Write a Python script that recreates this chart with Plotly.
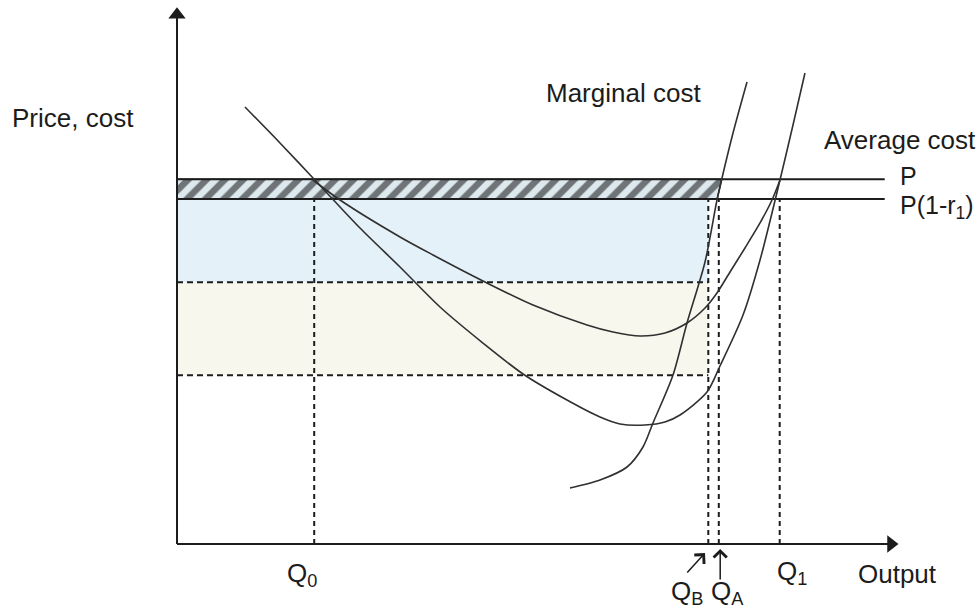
import numpy as np
import plotly.graph_objects as go

# ---------------- data (economic units) ----------------
P = 52.1                 # price
r1 = 0.054               # rate
P_net = P * (1 - r1)     # P(1-r1)

Q0 = 19.6
QB = 75.9
QA = 77.4
Q1 = 86.1

cost_levels = [37.4, 24.1]   # dashed horizontal levels

price_line_end = 101.1
x_axis_end = 103.0
y_axis_end = 76.6

# average cost curve (deep U, labelled "Average cost")
ac_x = [9.71, 14.71, 19.43, 26.14, 31.86, 37.57, 43.71, 49.43, 55.71, 60.43,
        63.29, 66.86, 69.71, 71.86, 75.71, 77.57, 80.86, 83.29, 86.14, 88.0, 89.71]
ac_y = [62.43, 57.29, 52.29, 45.14, 39.57, 33.86, 28.71, 24.29, 20.57, 18.14,
        17.14, 17.0, 17.43, 18.43, 21.71, 25.43, 32.71, 40.57, 52.0, 59.86, 67.29]

# second average cost curve (shallow U)
ac2_x = [19.43, 23.29, 31.86, 36.57, 44.0, 50.86, 58.57, 62.29, 66.14, 69.71,
         72.86, 75.43, 77.14, 79.0, 81.14, 83.29, 85.0, 86.14]
ac2_y = [52.0, 49.14, 43.86, 41.29, 37.43, 34.14, 31.29, 30.29, 29.71, 30.14,
         31.57, 33.71, 35.86, 38.86, 42.29, 45.86, 49.14, 52.0]

# marginal cost curve
mc_x = [56.14, 60.43, 64.29, 66.57, 68.0, 70.86, 72.86, 75.43, 77.14, 77.86, 79.43, 81.43]
mc_y = [8.0, 9.14, 11.0, 13.86, 17.29, 24.14, 31.57, 40.29, 49.14, 52.29, 58.71, 66.0]

# ---------------- figure ----------------
FONT = "Liberation Sans, Arial, sans-serif"
INK = "#1c1c1c"
CURVE = "#303030"

fig = go.Figure()

# shaded rectangles
fig.add_shape(type="rect", x0=0, x1=QB, y0=cost_levels[0], y1=P_net,
              fillcolor="#e4f1f8", line_width=0, layer="below")
fig.add_shape(type="rect", x0=0, x1=QB, y0=cost_levels[1], y1=cost_levels[0],
              fillcolor="#f8f7ee", line_width=0, layer="below")

# hatched band between P and P(1-r1), bounded by MC
x_mc_P = float(np.interp(P, mc_y, mc_x))
x_mc_Pn = float(np.interp(P_net, mc_y, mc_x))
fig.add_trace(go.Scatter(
    x=[0, x_mc_P, x_mc_Pn, 0, 0], y=[P, P, P_net, P_net, P],
    mode="lines", fill="toself", line=dict(color=INK, width=1.5),
    fillcolor="#dbe9ef",
    fillpattern=dict(shape="/", fgcolor="#000000", bgcolor="#dde9ee",
                     size=13, solidity=0.5),
    hoverinfo="skip", showlegend=False))

# dashed horizontal levels
for lvl in cost_levels:
    fig.add_trace(go.Scatter(x=[0, QB], y=[lvl, lvl], mode="lines",
                             line=dict(color=INK, width=2, dash="6px,4px"),
                             hoverinfo="skip", showlegend=False))

# dashed vertical drop lines
for q in [Q0, QB, QA, Q1]:
    fig.add_trace(go.Scatter(x=[q, q], y=[0, P_net], mode="lines",
                             line=dict(color=INK, width=2, dash="5px,4px"),
                             hoverinfo="skip", showlegend=False))

# price lines
for lvl in [P, P_net]:
    fig.add_trace(go.Scatter(x=[0, price_line_end], y=[lvl, lvl], mode="lines",
                             line=dict(color=INK, width=2),
                             hoverinfo="skip", showlegend=False))

# curves
for cx, cy in [(ac_x, ac_y), (ac2_x, ac2_y), (mc_x, mc_y)]:
    fig.add_trace(go.Scatter(x=cx, y=cy, mode="lines",
                             line=dict(color=CURVE, width=1.6, shape="spline", smoothing=0.8),
                             hoverinfo="skip", showlegend=False))

# axes lines with triangle arrowheads
fig.add_trace(go.Scatter(x=[0, x_axis_end - 1.0], y=[0, 0], mode="lines",
                         line=dict(color=INK, width=2), hoverinfo="skip", showlegend=False))
fig.add_trace(go.Scatter(x=[0, 0], y=[0, y_axis_end - 1.0], mode="lines",
                         line=dict(color=INK, width=2), hoverinfo="skip", showlegend=False))
fig.add_trace(go.Scatter(x=[x_axis_end - 1.0], y=[0], mode="markers",
                         marker=dict(symbol="triangle-right", size=15, color=INK),
                         hoverinfo="skip", showlegend=False))
fig.add_trace(go.Scatter(x=[0], y=[y_axis_end - 1.0], mode="markers",
                         marker=dict(symbol="triangle-up", size=15, color=INK),
                         hoverinfo="skip", showlegend=False))

# QB / QA pointer arrows
annotations = [
    dict(x=75.43, y=-1.3, ax=72.7, ay=-4.3, xref="x", yref="y", axref="x", ayref="y",
         showarrow=True, arrowhead=4, arrowsize=1.7, arrowwidth=1.5, arrowcolor=INK, text=""),
    dict(x=77.6, y=-0.7, ax=77.6, ay=-5.3, xref="x", yref="y", axref="x", ayref="y",
         showarrow=True, arrowhead=4, arrowsize=1.7, arrowwidth=1.5, arrowcolor=INK, text=""),
]

def label(text, x, y, xanchor="center", yanchor="middle", size=26):
    return dict(x=x, y=y, xref="x", yref="y", text=text, showarrow=False,
                xanchor=xanchor, yanchor=yanchor,
                font=dict(family=FONT, size=size, color=INK))

annotations += [
    label("Price, cost", -23.9, 60.9, xanchor="left"),
    label("Marginal cost", 75.2, 64.4, xanchor="right"),
    label("Average cost", 92.2, 57.7, xanchor="left"),
    label("P", 103.0, 52.6, xanchor="left", size=25),
    label("P(1-r<sub>1</sub>)", 103.0, 48.2, xanchor="left", size=25),
    label("Q<sub>0</sub>", 17.9, -4.3),
    label("Q<sub>B</sub>", 72.9, -6.9),
    label("Q<sub>A</sub>", 78.6, -6.9),
    label("Q<sub>1</sub>", 87.9, -4.1),
    label("Output", 102.9, -4.3),
]

fig.update_layout(
    width=980, height=609,
    margin=dict(l=0, r=0, t=0, b=0),
    paper_bgcolor="white", plot_bgcolor="white",
    showlegend=False,
    xaxis=dict(range=[-177 / 7, (980 - 177) / 7], visible=False, fixedrange=True),
    yaxis=dict(range=[(544 - 609) / 7, 544 / 7], visible=False, fixedrange=True),
    annotations=annotations,
)

fig.write_html("out.html",
               config={"displayModeBar": False},
               post_script="document.body.style.margin='0px';document.body.style.overflow='hidden';")
